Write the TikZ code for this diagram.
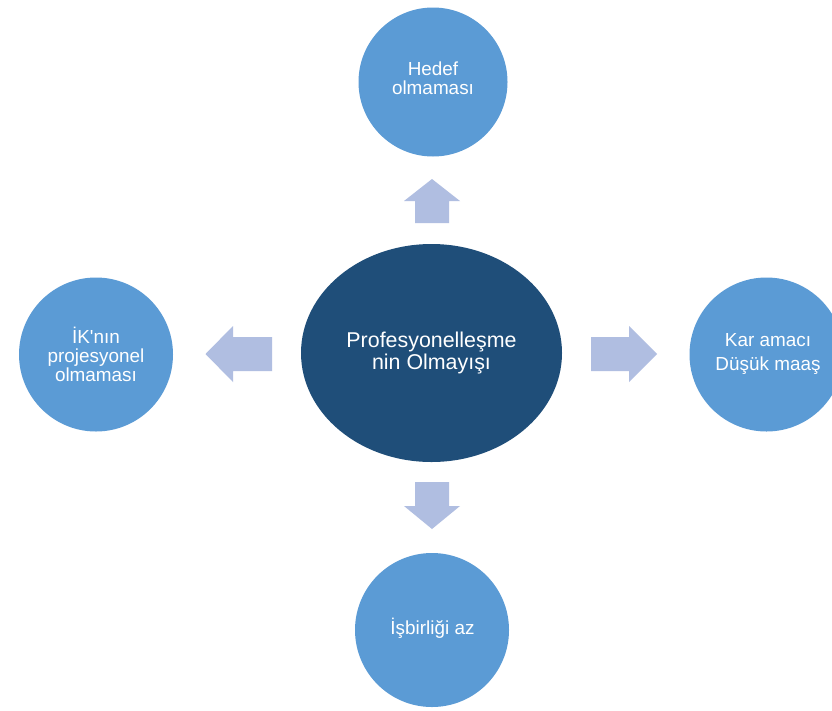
\documentclass[tikz,border=0pt]{standalone}
\usepackage{fontspec}
\setmainfont{Liberation Sans}
\usetikzlibrary{shapes.geometric}
\definecolor{outerblue}{HTML}{5B9BD5}
\definecolor{coreblue}{HTML}{1F4E79}
\definecolor{arrowblue}{HTML}{B0BEE1}

\begin{document}
\begin{tikzpicture}[x=1pt,y=-1pt,
  outer/.style={circle,fill=outerblue,minimum size=154pt,inner sep=0pt},
  core/.style={ellipse,fill=coreblue,minimum width=261pt,minimum height=218pt,
    inner sep=0pt,text=white,align=center,font=\fontsize{21.4}{22.3}\selectfont},
  lbl/.style={text=white,align=center,inner sep=0pt,font=\fontsize{18.9}{19}\selectfont},
  blockarrow/.style={fill=arrowblue}]
\useasboundingbox (0,0) rectangle (832,710);
\clip (0,0) rectangle (832,710);
\fill[white] (0,0) rectangle (832,710);

% central ellipse
\node[core] (core) at (431.5,353) {Profesyonelleşme\\nin Olmayışı};

% surrounding circles
\node[outer,minimum size=149pt] (top) at (433,82) {};
\node[outer] (left) at (96,354.5) {};
\node[outer] (right) at (766.5,354.5) {};
\node[outer] (bottom) at (432,630) {};

% circle labels
\node[lbl] (toptext) at (433,78) {Hedef\\olmaması};
\node[lbl] (lefttext) at (96,354.5) {İK\textquotesingle nın\\projesyonel\\olmaması};
\node[lbl,font=\fontsize{18.9}{24}\selectfont] (righttext) at (768,353.5) {Kar amacı\\Düşük maaş};
\node[lbl] (bottomtext) at (432.5,628) {İşbirliği az};

% block arrows pointing outwards
\fill[blockarrow] (432,179) -- (460,201) -- (449,201) -- (449,223)
  -- (415,223) -- (415,201) -- (404,201) -- cycle;
\fill[blockarrow] (432,529) -- (460,506) -- (449,506) -- (449,482)
  -- (415,482) -- (415,506) -- (404,506) -- cycle;
\fill[blockarrow] (205.5,354) -- (233,326) -- (233,337) -- (272,337)
  -- (272,371) -- (233,371) -- (233,382) -- cycle;
\fill[blockarrow] (657,354) -- (629,326) -- (629,337) -- (591,337)
  -- (591,371) -- (629,371) -- (629,382) -- cycle;
\end{tikzpicture}
\end{document}
